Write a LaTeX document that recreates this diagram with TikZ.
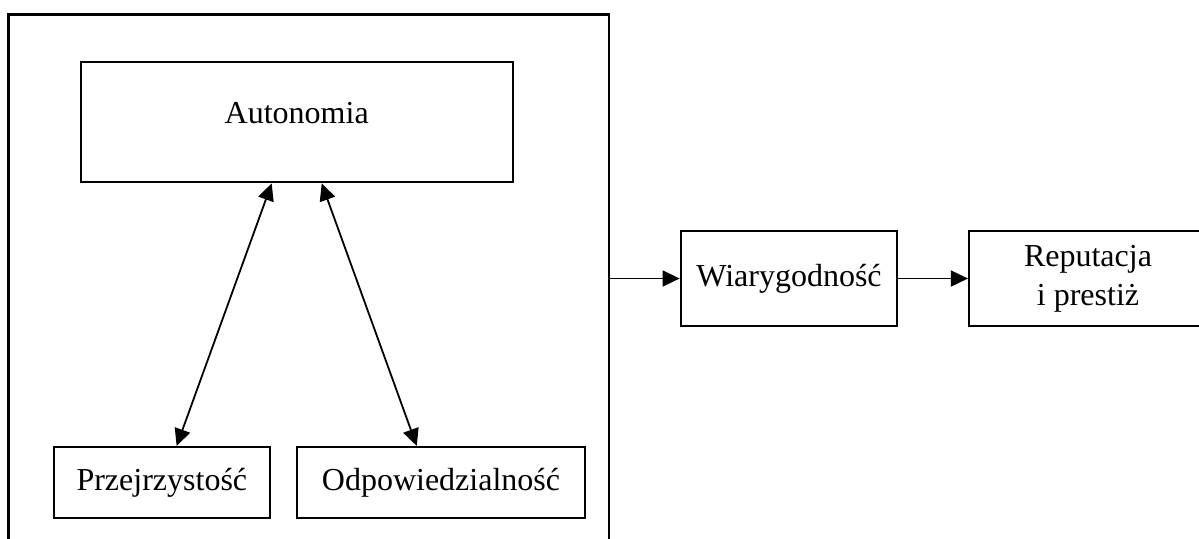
\documentclass[tikz,border=0pt]{standalone}
\usepackage{fontspec}
\setmainfont{Liberation Serif}
\usetikzlibrary{arrows.meta}

\begin{document}
\begin{tikzpicture}[x=0.5pt,y=-0.5pt,
  box/.style={draw,line width=1.1pt,inner sep=0pt,align=center,
    font=\fontsize{16}{19.5}\selectfont},
  link/.style={line width=0.9pt,-{Triangle[length=8.5pt,width=8pt]}},
  twoway/.style={line width=0.9pt,
    {Triangle[length=8.5pt,width=8pt]}-{Triangle[length=8.5pt,width=8pt]}}]
  \useasboundingbox (0,0) rectangle (1199,538);
  % outer frame, cut off at the bottom
  \node[box,minimum width=300.25pt,minimum height=292.75pt] (system) at (308.75,307.25) {};
  \node[box,minimum width=216pt,minimum height=60pt,text depth=9.25pt] (auton) at (296.7,122.3) {Autonomia};
  \node[box,minimum width=108.15pt,minimum height=35.65pt] (przej) at (161.85,482.65) {Przejrzystość};
  \node[box,minimum width=144pt,minimum height=35.65pt] (odp) at (441,482.65) {Odpowiedzialność};
  \node[box,minimum width=108.3pt,minimum height=47.5pt] (wiar) at (789,278.5) {Wiarygodność};
  \node[box,minimum width=119pt,minimum height=47.5pt] (rep) at (1088,278.5) {Reputacja\\i prestiż};
  \draw[twoway] ([xshift=-12.5pt]auton.south) -- ([xshift=7.4pt]przej.north);
  \draw[twoway] ([xshift=12.5pt]auton.south) -- ([xshift=-12.15pt]odp.north);
  \draw[link] (system.east |- wiar.west) -- (wiar.west);
  \draw[link] (wiar.east) -- (rep.west);
\end{tikzpicture}
\end{document}
